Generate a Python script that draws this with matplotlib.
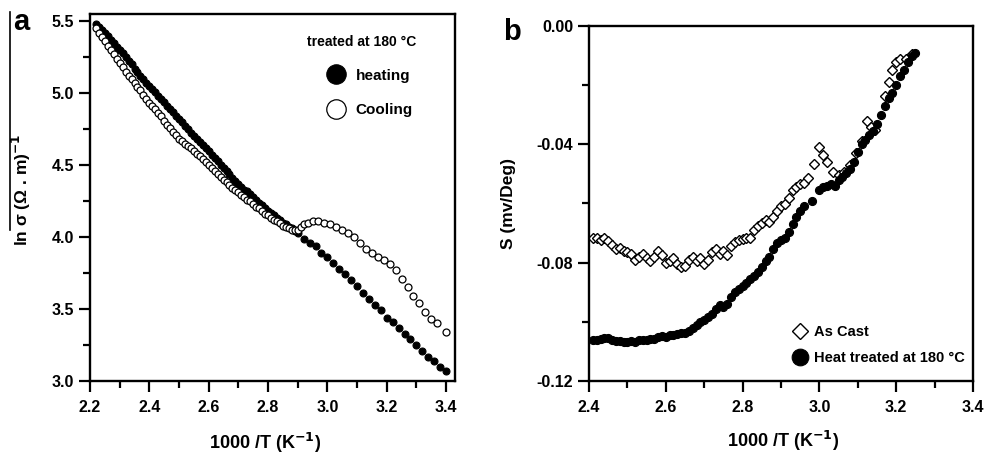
import matplotlib
matplotlib.use("Agg")
import matplotlib.pyplot as plt
from matplotlib.ticker import MultipleLocator, FormatStrFormatter
from matplotlib.lines import Line2D

plt.rcParams['font.family'] = ['Liberation Sans', 'DejaVu Sans']
plt.rcParams['font.weight'] = 'bold'
plt.rcParams['mathtext.default'] = 'bf'

# ---------------- Panel a data ----------------
heat_x = [2.22, 2.23, 2.24, 2.25, 2.26, 2.27, 2.28, 2.29, 2.30, 2.31, 2.32, 2.33, 2.34, 2.35,
          2.36, 2.37, 2.38, 2.39, 2.40, 2.41, 2.42, 2.43, 2.44, 2.45, 2.46, 2.47, 2.48, 2.49,
          2.50, 2.51, 2.52, 2.53, 2.54, 2.55, 2.56, 2.57, 2.58, 2.59, 2.60, 2.61, 2.62, 2.63,
          2.64, 2.65, 2.66, 2.67, 2.68, 2.69, 2.70, 2.71, 2.72, 2.73, 2.74, 2.75, 2.76, 2.77,
          2.78, 2.79, 2.80, 2.81, 2.82, 2.83, 2.84, 2.85, 2.86, 2.87, 2.88, 2.89, 2.90,
          2.92, 2.94, 2.96, 2.98, 3.00, 3.02, 3.04, 3.06, 3.08, 3.10, 3.12, 3.14, 3.16, 3.18,
          3.20, 3.22, 3.24, 3.26, 3.28, 3.30, 3.32, 3.34, 3.36, 3.38, 3.40]
heat_y = [5.48, 5.46, 5.44, 5.42, 5.40, 5.37, 5.35, 5.32, 5.30, 5.28, 5.25, 5.22, 5.20, 5.17,
          5.15, 5.12, 5.10, 5.07, 5.05, 5.03, 5.01, 4.98, 4.96, 4.94, 4.91, 4.89, 4.87, 4.84,
          4.82, 4.80, 4.77, 4.75, 4.72, 4.70, 4.68, 4.66, 4.64, 4.62, 4.60, 4.57, 4.55, 4.53,
          4.50, 4.48, 4.46, 4.44, 4.41, 4.39, 4.37, 4.35, 4.33, 4.32, 4.30, 4.28, 4.26, 4.24,
          4.22, 4.20, 4.18, 4.17, 4.15, 4.13, 4.12, 4.10, 4.09, 4.07, 4.06, 4.04, 4.03,
          3.99, 3.96, 3.94, 3.89, 3.86, 3.82, 3.78, 3.74, 3.70, 3.66, 3.61, 3.57, 3.53, 3.49,
          3.44, 3.41, 3.37, 3.33, 3.29, 3.25, 3.21, 3.17, 3.14, 3.10, 3.07]

cool_x = [2.22, 2.23, 2.24, 2.25, 2.26, 2.27, 2.28, 2.29, 2.30, 2.31, 2.32, 2.33, 2.34, 2.35,
          2.36, 2.37, 2.38, 2.39, 2.40, 2.41, 2.42, 2.43, 2.44, 2.45, 2.46, 2.47, 2.48, 2.49,
          2.50, 2.51, 2.52, 2.53, 2.54, 2.55, 2.56, 2.57, 2.58, 2.59, 2.60, 2.61, 2.62, 2.63,
          2.64, 2.65, 2.66, 2.67, 2.68, 2.69, 2.70, 2.71, 2.72, 2.73, 2.74, 2.75, 2.76, 2.77,
          2.78, 2.79, 2.80, 2.81, 2.82, 2.83, 2.84, 2.85, 2.86, 2.87, 2.88, 2.89, 2.90,
          2.91, 2.92, 2.935, 2.95, 2.97, 2.99, 3.01, 3.03, 3.05, 3.07, 3.09, 3.11, 3.13, 3.15,
          3.17, 3.19, 3.21, 3.23, 3.25, 3.27, 3.29, 3.31, 3.33, 3.35, 3.37, 3.40]
cool_y = [5.45, 5.42, 5.39, 5.36, 5.33, 5.30, 5.27, 5.24, 5.21, 5.18, 5.15, 5.12, 5.10, 5.07,
          5.04, 5.02, 4.99, 4.96, 4.93, 4.91, 4.89, 4.86, 4.84, 4.81, 4.78, 4.76, 4.73, 4.71,
          4.68, 4.67, 4.65, 4.63, 4.62, 4.60, 4.58, 4.56, 4.54, 4.52, 4.50, 4.48, 4.46, 4.44,
          4.42, 4.40, 4.38, 4.36, 4.34, 4.33, 4.31, 4.29, 4.28, 4.26, 4.25, 4.23, 4.21, 4.20,
          4.18, 4.16, 4.15, 4.13, 4.12, 4.11, 4.10, 4.08, 4.07, 4.06, 4.05, 4.05, 4.05,
          4.07, 4.09, 4.10, 4.11, 4.11, 4.10, 4.09, 4.07, 4.05, 4.03, 4.00, 3.96, 3.92, 3.89,
          3.86, 3.84, 3.81, 3.77, 3.71, 3.65, 3.59, 3.54, 3.48, 3.43, 3.40, 3.34]

# ---------------- Panel b data ----------------
ht_x = [2.41, 2.42, 2.43, 2.44, 2.45, 2.46, 2.47, 2.48, 2.49, 2.50, 2.51, 2.52, 2.53, 2.54,
        2.55, 2.56, 2.57, 2.58, 2.59, 2.60, 2.61, 2.62, 2.63, 2.64, 2.65, 2.66, 2.67, 2.68,
        2.69, 2.70, 2.71, 2.72, 2.73, 2.74, 2.75, 2.76, 2.77, 2.78, 2.79, 2.80, 2.81, 2.82,
        2.83, 2.84, 2.85, 2.86, 2.87, 2.88, 2.89, 2.90, 2.91, 2.92, 2.93, 2.94, 2.95, 2.96,
        2.98, 3.00, 3.01, 3.02, 3.03, 3.04, 3.05, 3.06, 3.07, 3.08, 3.09, 3.10, 3.11, 3.12,
        3.13, 3.14, 3.15, 3.16, 3.17, 3.18, 3.19, 3.20, 3.21, 3.22, 3.23, 3.24, 3.25]
ht_y = [-0.1062, -0.1060, -0.1058, -0.1055, -0.1056, -0.1060, -0.1064, -0.1066, -0.1068,
        -0.1069, -0.1066, -0.1067, -0.1063, -0.1060, -0.1060, -0.1059, -0.1058, -0.1052,
        -0.1047, -0.1050, -0.1046, -0.1044, -0.1040, -0.1038, -0.1037, -0.1032, -0.1022,
        -0.1010, -0.1002, -0.0994, -0.0985, -0.0972, -0.0955, -0.0944, -0.0950, -0.0940,
        -0.0915, -0.0898, -0.0890, -0.0880, -0.0868, -0.0855, -0.0845, -0.0832, -0.0815,
        -0.0795, -0.0780, -0.0755, -0.0735, -0.0725, -0.0715, -0.0695, -0.0670, -0.0645,
        -0.0625, -0.0610, -0.0590, -0.0555, -0.0545, -0.0540, -0.0535, -0.0540, -0.0520,
        -0.0510, -0.0498, -0.0485, -0.0460, -0.0425, -0.0400, -0.0385, -0.0370, -0.0355,
        -0.0330, -0.0300, -0.0270, -0.0245, -0.0225, -0.0200, -0.0170, -0.0150, -0.0120,
        -0.0100, -0.0090]

ac_x = [2.41, 2.42, 2.43, 2.44, 2.45, 2.46, 2.47, 2.48, 2.49, 2.50, 2.51, 2.52, 2.53, 2.54,
        2.55, 2.56, 2.57, 2.58, 2.59, 2.60, 2.61, 2.62, 2.63, 2.64, 2.65, 2.66, 2.67, 2.68,
        2.69, 2.70, 2.71, 2.72, 2.73, 2.74, 2.75, 2.76, 2.77, 2.78, 2.79, 2.80, 2.81, 2.82,
        2.83, 2.84, 2.85, 2.86, 2.87, 2.88, 2.89, 2.90, 2.91, 2.92, 2.93, 2.94, 2.95, 2.96,
        2.97, 2.985, 3.00, 3.01, 3.02, 3.035, 3.05, 3.065, 3.08, 3.095, 3.11, 3.125, 3.135,
        3.145, 3.17, 3.18, 3.19, 3.20, 3.21, 3.225, 3.24]
ac_y = [-0.0715, -0.0718, -0.0722, -0.0718, -0.0728, -0.0740, -0.0755, -0.0750, -0.0760,
        -0.0765, -0.0772, -0.0790, -0.0780, -0.0770, -0.0785, -0.0795, -0.0780, -0.0760,
        -0.0775, -0.0800, -0.0795, -0.0785, -0.0805, -0.0815, -0.0810, -0.0790, -0.0780,
        -0.0795, -0.0785, -0.0805, -0.0790, -0.0765, -0.0755, -0.0770, -0.0760, -0.0775,
        -0.0745, -0.0730, -0.0725, -0.0720, -0.0718, -0.0715, -0.0690, -0.0675, -0.0665,
        -0.0655, -0.0662, -0.0645, -0.0625, -0.0610, -0.0600, -0.0580, -0.0555, -0.0545,
        -0.0535, -0.0530, -0.0515, -0.0465, -0.0410, -0.0435, -0.0460, -0.0495, -0.0505,
        -0.0495, -0.0470, -0.0430, -0.0390, -0.0320, -0.0340, -0.0350, -0.0235, -0.0190,
        -0.0150, -0.0120, -0.0110, -0.0110, -0.0095]

W, H = 986, 453
fig = plt.figure(figsize=(W / 100, H / 100), dpi=100)


def fpos(l, t, r, b):
    return [l / W, 1 - b / H, (r - l) / W, (b - t) / H]


def style(ax):
    for s in ax.spines.values():
        s.set_linewidth(1.7)
    ax.tick_params(which='major', direction='out', length=8, width=1.6, labelsize=11.5)
    ax.tick_params(which='minor', direction='out', length=5, width=1.6)
    ax.tick_params(axis='x', which='major', pad=6)
    ax.tick_params(axis='y', which='major', pad=3.5)
    for lab in ax.get_xticklabels() + ax.get_yticklabels():
        lab.set_fontweight('bold')


# ---------------- Panel a ----------------
ax1 = fig.add_axes(fpos(90, 14, 455, 381))
l_heat, = ax1.plot(heat_x, heat_y, 'o', ms=5, mfc='black', mec='black', mew=0.8, label='heating')
l_cool, = ax1.plot(cool_x, cool_y, 'o', ms=5, mfc='white', mec='black', mew=0.9, label='Cooling')
ax1.set_xlim(2.2, 3.43)
ax1.set_ylim(3.0, 5.55)
ax1.xaxis.set_major_locator(MultipleLocator(0.2))
ax1.xaxis.set_minor_locator(MultipleLocator(0.1))
ax1.yaxis.set_major_locator(MultipleLocator(0.5))
ax1.yaxis.set_minor_locator(MultipleLocator(0.25))
ax1.xaxis.set_major_formatter(FormatStrFormatter('%.1f'))
ax1.yaxis.set_major_formatter(FormatStrFormatter('%.1f'))
style(ax1)
ax1.set_xlabel('1000 /T (K$^{-1}$)', fontsize=13, fontweight='bold')
ax1.xaxis.set_label_coords(0.48, -0.135)
ax1.set_ylabel('ln σ (Ω . m)$^{-1}$', fontsize=12.5, fontweight='bold')
ax1.yaxis.set_label_coords(-0.155, 0.52)
ax1.text(0.594, 0.923, 'treated at 180 °C', transform=ax1.transAxes, fontsize=10,
         fontweight='bold', va='center')
leg1 = ax1.legend(handles=[l_heat, l_cool], loc='upper left', bbox_to_anchor=(0.625, 0.88),
                  frameon=False, markerscale=2.8, fontsize=11, handlelength=1.0,
                  handletextpad=0.75, labelspacing=1.35, borderpad=0.2)
for t in leg1.get_texts():
    t.set_fontweight('bold')
fig.text(13 / W, 1 - 30 / H, 'a', fontsize=21, fontweight='bold', va='baseline')
fig.add_artist(Line2D([9.5 / W, 9.5 / W], [1 - 12 / H, 1 - 230 / H], color='black', lw=1.2))

# ---------------- Panel b ----------------
ax2 = fig.add_axes(fpos(589, 26, 973, 381))
l_ac, = ax2.plot(ac_x, ac_y, 'D', ms=4.6, mfc='white', mec='black', mew=1.0, label='As Cast')
l_ht, = ax2.plot(ht_x, ht_y, 'o', ms=5.8, mfc='black', mec='black', mew=0.8,
                 label='Heat treated at 180 °C')
ax2.set_xlim(2.4, 3.4)
ax2.set_ylim(-0.12, 0.0)
ax2.xaxis.set_major_locator(MultipleLocator(0.2))
ax2.xaxis.set_minor_locator(MultipleLocator(0.1))
ax2.yaxis.set_major_locator(MultipleLocator(0.04))
ax2.yaxis.set_minor_locator(MultipleLocator(0.02))
ax2.xaxis.set_major_formatter(FormatStrFormatter('%.1f'))
ax2.yaxis.set_major_formatter(FormatStrFormatter('%.2f'))
style(ax2)
ax2.set_xlabel('1000 /T (K$^{-1}$)', fontsize=13, fontweight='bold')
ax2.xaxis.set_label_coords(0.505, -0.135)
ax2.set_ylabel('S (mv/Deg)', fontsize=12.5, fontweight='bold')
ax2.yaxis.set_label_coords(-0.19, 0.5)
leg2 = ax2.legend(handles=[l_ac, l_ht], loc='lower left', bbox_to_anchor=(0.505, 0.015),
                  frameon=False, fontsize=10.5, handlelength=1.0, handletextpad=0.45,
                  labelspacing=0.85, borderpad=0.2)
leg2.legend_handles[0].set_markersize(8)
leg2.legend_handles[1].set_markersize(12)
for t in leg2.get_texts():
    t.set_fontweight('bold')
fig.text(503 / W, 1 - 40 / H, 'b', fontsize=21, fontweight='bold', va='baseline')

fig.savefig('out.png', dpi=100)
